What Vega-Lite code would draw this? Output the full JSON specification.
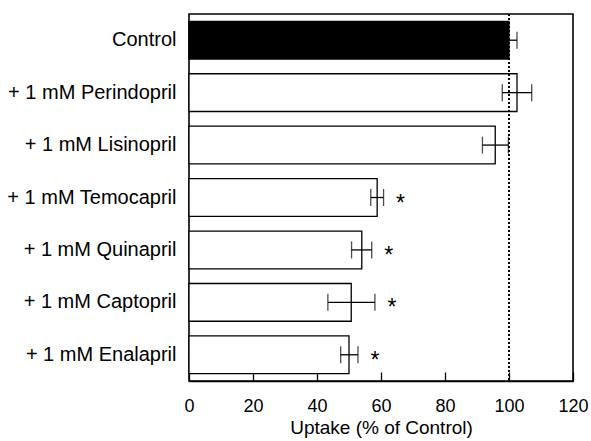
{
  "$schema": "https://vega.github.io/schema/vega-lite/v6.json",
  "autosize": {"type": "none"},
  "padding": {"left": 189, "top": 14, "right": 18, "bottom": 60},
  "width": 384,
  "height": 367,
  "background": "white",
  "config": {
    "font": "Liberation Sans",
    "view": {"stroke": "black", "strokeWidth": 1.6},
    "axis": {"labelColor": "black", "titleColor": "black", "grid": false}
  },
  "data": {
    "values": [
      {"group": "Control", "uptake": 100.0, "lo": 97.5, "hi": 102.5, "sig": ""},
      {"group": "+ 1 mM Perindopril", "uptake": 102.5, "lo": 97.9, "hi": 107.1, "sig": ""},
      {"group": "+ 1 mM Lisinopril", "uptake": 95.7, "lo": 91.7, "hi": 99.8, "sig": ""},
      {"group": "+ 1 mM Temocapril", "uptake": 58.8, "lo": 56.8, "hi": 60.8, "sig": "*"},
      {"group": "+ 1 mM Quinapril", "uptake": 54.0, "lo": 50.8, "hi": 57.1, "sig": "*"},
      {"group": "+ 1 mM Captopril", "uptake": 50.7, "lo": 43.4, "hi": 58.1, "sig": "*"},
      {"group": "+ 1 mM Enalapril", "uptake": 50.0, "lo": 47.4, "hi": 52.8, "sig": "*"}
    ]
  },
  "encoding": {
    "y": {
      "field": "group",
      "type": "nominal",
      "sort": null,
      "scale": {"paddingInner": 0.28, "paddingOuter": 0.14},
      "axis": {
        "title": null,
        "ticks": false,
        "domain": false,
        "labelFontSize": 20,
        "labelPadding": 13,
        "labelLimit": 300
      }
    }
  },
  "layer": [
    {
      "mark": {"type": "bar", "stroke": "black", "strokeWidth": 1.3},
      "encoding": {
        "x": {
          "field": "uptake",
          "type": "quantitative",
          "scale": {"domain": [0, 120], "nice": false},
          "axis": {
            "title": "Uptake (% of Control)",
            "values": [0, 20, 40, 60, 80, 100, 120],
            "tickSize": -9,
            "tickColor": "black",
            "tickWidth": 1.3,
            "domainColor": "black",
            "domainWidth": 1.6,
            "labelFontSize": 18,
            "labelPadding": 25,
            "labelFlush": false,
            "titleFontSize": 19,
            "titleFontWeight": "normal",
            "titlePadding": 3
          }
        },
        "fill": {
          "condition": {"test": "datum.group === 'Control'", "value": "black"},
          "value": "white"
        }
      }
    },
    {
      "mark": {"type": "rule", "strokeDash": [2, 2], "strokeWidth": 1, "color": "black"},
      "encoding": {"x": {"datum": 100, "type": "quantitative"}, "y": null}
    },
    {
      "mark": {"type": "rule", "color": "black", "strokeWidth": 1.3},
      "encoding": {
        "x": {"field": "lo", "type": "quantitative"},
        "x2": {"field": "hi"}
      }
    },
    {
      "mark": {"type": "tick", "orient": "vertical", "color": "black", "thickness": 1.3, "size": 17},
      "encoding": {"x": {"field": "lo", "type": "quantitative"}}
    },
    {
      "mark": {"type": "tick", "orient": "vertical", "color": "black", "thickness": 1.3, "size": 17},
      "encoding": {"x": {"field": "hi", "type": "quantitative"}}
    },
    {
      "mark": {"type": "text", "fontSize": 23, "dx": 17, "dy": 6, "align": "center", "baseline": "middle", "color": "black"},
      "encoding": {
        "x": {"field": "hi", "type": "quantitative"},
        "text": {"field": "sig"}
      }
    }
  ]
}
